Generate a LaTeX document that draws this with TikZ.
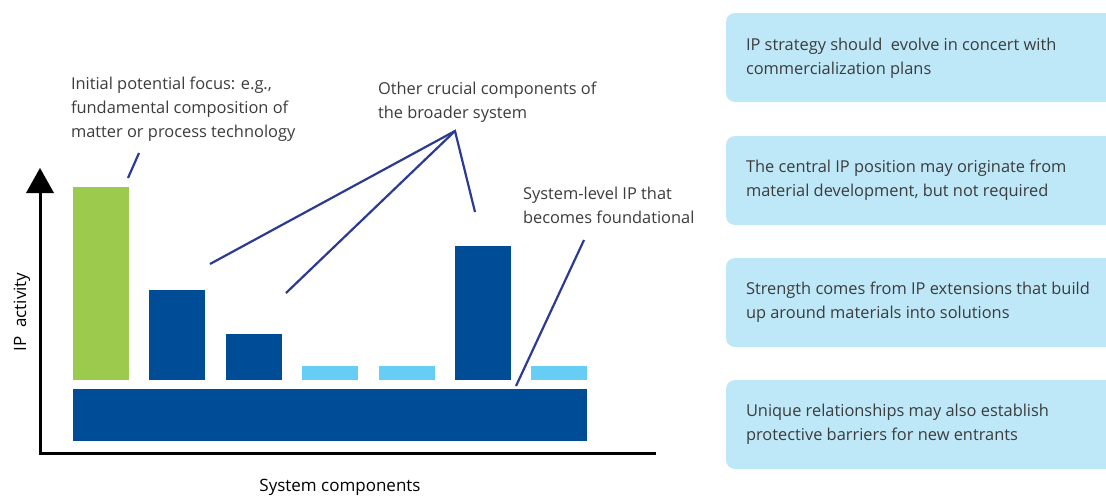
\documentclass[tikz,border=0pt]{standalone}
\usepackage{fontspec}
\setmainfont{Open Sans}
\definecolor{darkbar}{HTML}{004C97}
\definecolor{greenbar}{HTML}{9BCA4C}
\definecolor{lightbar}{HTML}{66CDF5}
\definecolor{boxfill}{HTML}{BEE8F8}
\definecolor{callout}{HTML}{2B3A92}
\definecolor{txt}{HTML}{3C3C3C}
\tikzset{
  bar/.style={inner sep=0pt, outer sep=0pt, draw=none, minimum width=56pt, anchor=south west},
  lbl/.style={inner sep=0pt, outer sep=0pt, anchor=base west, align=left, text=txt, font=\fontsize{16.4}{24}\selectfont},
  info/.style={inner sep=0pt, outer sep=0pt, anchor=north west, fill=boxfill, rounded corners=9pt, minimum width=400pt, minimum height=89pt},
  infotext/.style={lbl},
  axislabel/.style={inner sep=0pt, text=black, font=\fontsize{17}{18}\selectfont},
  callline/.style={draw=callout, line width=2.2pt},
  axisline/.style={draw=black, line width=3pt},
}
\begin{document}
\begin{tikzpicture}[x=1pt, y=-1pt]
\useasboundingbox (0,0) rectangle (1106,496);
% axes
\coordinate (origin) at (40,453);
\coordinate (xend) at (656,453);
\coordinate (ytop) at (40,192);
\draw[axisline] (xend) -- (origin) -- (ytop);
\fill[black] (26,193) -- (54,193) -- (40,168) -- cycle;
\node[axislabel, rotate=90] (ylab) at (22,312) {IP\ \ activity};
\node[axislabel] (xlab) at (340,487) {System components};
% bars
\node[bar, fill=greenbar, minimum height=193pt] (b1) at (73,380) {};
\node[bar, fill=darkbar, minimum height=90pt] (b2) at (149,380) {};
\node[bar, fill=darkbar, minimum height=46pt] (b3) at (226,380) {};
\node[bar, fill=lightbar, minimum height=14pt] (b4) at (302,380) {};
\node[bar, fill=lightbar, minimum height=14pt] (b5) at (379,380) {};
\node[bar, fill=darkbar, minimum height=134pt] (b6) at (455,380) {};
\node[bar, fill=lightbar, minimum height=14pt] (b7) at (531,380) {};
\node[bar, fill=darkbar, minimum width=514pt, minimum height=52pt] (base) at (73,441) {};
% labels (anchor = baseline of last line)
\node[lbl] (l1) at (71,137) {Initial potential focus: e.g.,\\fundamental composition of\\matter or process technology};
\node[lbl] (l2) at (378,118) {Other crucial components of\\the broader system};
\node[lbl] (l3) at (523,223) {System-level IP that\\becomes foundational};
% callout lines
\coordinate (c1a) at (139,153);
\coordinate (c1b) at (128,178);
\coordinate (apex) at (455,131);
\coordinate (c2a) at (210,264);
\coordinate (c2b) at (286,293);
\coordinate (c2c) at (475,212);
\coordinate (c3a) at (584,240);
\coordinate (c3b) at (516,386);
\draw[callline] (c1a) -- (c1b);
\draw[callline, line join=miter] (c2a) -- (apex) -- (c2c);
\draw[callline] (apex) -- (c2b);
\draw[callline] (c3a) -- (c3b);
% info boxes
\node[info] (i1) at (726,13) {};
\node[info] (i2) at (726,136) {};
\node[info] (i3) at (726,258) {};
\node[info] (i4) at (726,380) {};
\node[infotext] (t1) at (746,74) {IP strategy should\ \ evolve in concert with\\commercialization plans};
\node[infotext] (t2) at (746,196) {The central IP position may originate from\\material development, but not required};
\node[infotext] (t3) at (746,318) {Strength comes from IP extensions that build\\up around materials into solutions};
\node[infotext] (t4) at (746,440) {Unique relationships may also establish\\protective barriers for new entrants};
\end{tikzpicture}
\end{document}
